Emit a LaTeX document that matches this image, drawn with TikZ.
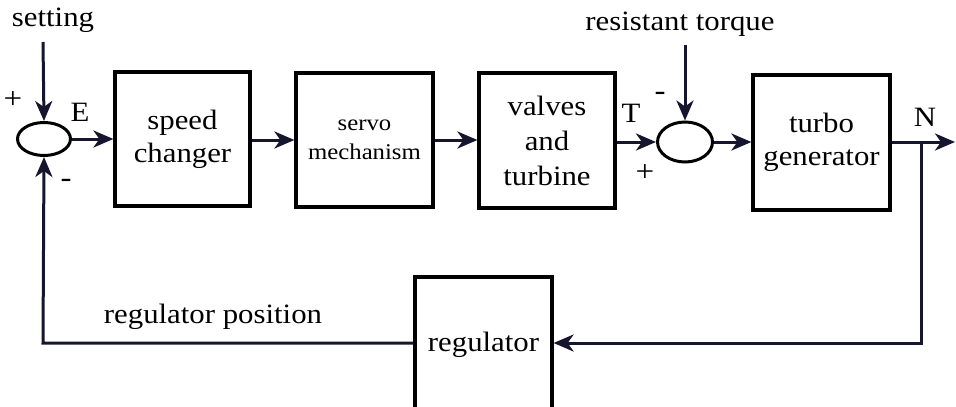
\documentclass[tikz,border=0pt]{standalone}
\usepackage{fontspec}
\setmainfont{Liberation Serif}[FakeStretch=1.1]
\usetikzlibrary{arrows.meta,shapes.geometric}
\definecolor{ln}{HTML}{15152E}
\begin{document}
\begin{tikzpicture}[x=1pt,y=-1pt,
  blk/.style={draw=black,line width=3.2pt,rectangle,inner sep=0pt,align=center,
     font=\fontsize{28}{33}\selectfont},
  sumj/.style={draw=black,line width=3pt,ellipse,inner sep=0pt},
  lab/.style={inner sep=0pt,font=\fontsize{28}{32}\selectfont},
  sgn/.style={inner sep=0pt,font=\fontsize{30}{32}\selectfont},
  sig/.style={draw=ln,line width=3pt,-{Stealth[length=20pt,width=17pt,inset=6pt]}},
  wire/.style={draw=ln,line width=3pt}]
\clip (0,0) rectangle (956,407);
\fill[white] (0,0) rectangle (956,407);
% junctions
\node[sumj,minimum width=53pt,minimum height=33pt] (s1) at (44,139) {};
\node[sumj,minimum width=55pt,minimum height=40pt] (s2) at (685,142) {};
% blocks
\node[blk,minimum width=135pt,minimum height=134pt] (sc) at (182.5,139) {speed\\changer};
\node[blk,minimum width=137pt,minimum height=134pt,font=\fontsize{22.5}{29}\selectfont] (sv) at (364.5,140) {servo\\mechanism};
\node[blk,minimum width=136pt,minimum height=135pt,font=\fontsize{28}{35}\selectfont] (vt) at (547,140.5) {valves\\and\\turbine};
\node[blk,minimum width=137pt,minimum height=135pt] (tg) at (821.5,142.5) {turbo\\generator};
\node[blk,minimum width=137pt,minimum height=136pt] (rg) at (483.5,345) {regulator};
% texts
\node[lab] (tset) at (53,20) {setting};
\node[lab] (trt) at (680,24) {resistant torque};
\node[lab] (tE) at (80,112) {E};
\node[lab] (tT) at (631,113) {T};
\node[lab] (tN) at (925,117) {N};
\node[lab] (trp) at (213,317) {regulator position};
\node[sgn] (p1) at (13,100) {+};
\node[sgn] (m1) at (66,183) {-};
\node[sgn] (m2) at (660,96) {-};
\node[sgn] (p2) at (645,173) {+};
% coordinates
\coordinate (setin) at (43,42);
\coordinate (rtin) at (685,45);
\coordinate (outend) at (955,142);
\coordinate (br) at (921,142);
\coordinate (brd) at (921,343);
\coordinate (fbl) at (43,343);
% connectors
\draw[sig] (setin) -- (s1.north);
\draw[sig] (s1.east) -- (sc.west |- s1.east);
\draw[sig] (sc.east |- 0,140) -- (sv.west |- 0,140);
\draw[sig] (sv.east |- 0,140) -- (vt.west |- 0,140);
\draw[sig] (vt.east |- s2.west) -- (s2.west);
\draw[sig] (rtin) -- (s2.north);
\draw[sig] (s2.east) -- (tg.west |- s2.east);
\draw[sig] (tg.east |- br) -- (outend);
\draw[sig] (br) -- (brd) -- (rg.east |- brd);
\draw[sig] (rg.west |- fbl) -- (fbl) -- (s1.south);
\end{tikzpicture}
\end{document}
